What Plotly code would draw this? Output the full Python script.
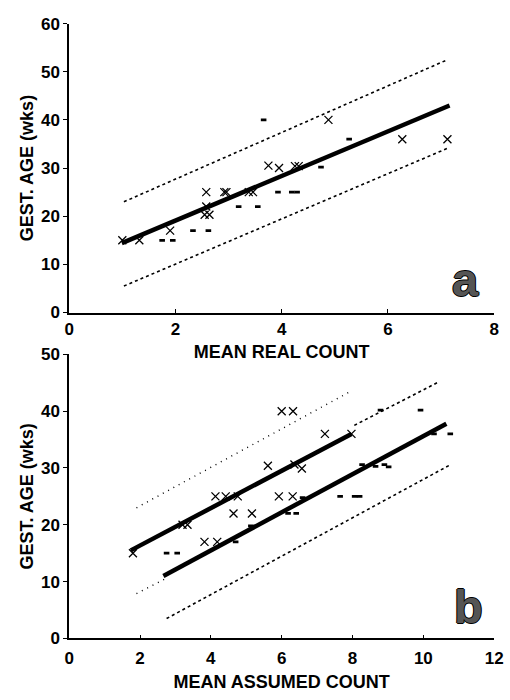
import plotly.graph_objects as go

# ---------- panel a: gestational age vs mean real count ----------
a_cross_x = [1.0, 1.32, 1.9, 2.58, 2.58, 2.55, 2.64, 2.92, 2.96, 3.38, 3.46,
             3.75, 3.95, 4.25, 4.32, 4.88, 6.27, 7.12]
a_cross_y = [15, 15, 17, 25, 22, 20.3, 20.3, 25, 25, 25, 25,
             30.5, 30, 30.4, 30.4, 40, 36, 36]
a_dash_x = [1.75, 1.95, 2.33, 2.62, 3.19, 3.55, 3.66, 3.93, 4.19, 4.29, 4.74, 5.27]
a_dash_y = [15, 15, 17, 17, 22, 22, 40, 25, 25, 25, 30.2, 36]

a_fit_x, a_fit_y = [0.99, 7.16], [14.4, 43.0]
a_hi_x, a_hi_y = [1.03, 7.12], [23.0, 52.5]
a_lo_x, a_lo_y = [1.03, 7.12], [5.5, 34.1]

# ---------- panel b: gestational age vs mean assumed count ----------
b_cross_x = [1.8, 3.2, 3.34, 3.82, 4.18, 4.13, 4.42, 4.76, 4.64, 5.16,
             5.61, 5.92, 6.31, 6.0, 6.32, 6.36, 6.57, 7.22, 7.97]
b_cross_y = [15, 20, 20, 17, 17, 25, 25, 25, 22, 22,
             30.4, 25, 25, 40, 40, 30.6, 29.9, 36, 36]
b_dash_x = [2.75, 3.05, 4.7, 5.13, 6.18, 6.41, 6.59, 7.65, 8.06, 8.2,
            8.27, 8.65, 8.9, 9.02, 8.79, 9.92, 10.3, 10.76]
b_dash_y = [15, 15, 17, 19.8, 22, 22, 24.8, 25, 25, 25,
            30.6, 30.3, 30.6, 30.2, 40.2, 40.2, 36, 36]

b_fit1_x, b_fit1_y = [1.74, 7.97], [15.5, 36.0]
b_hi1_x, b_hi1_y = [1.9, 7.92], [23.0, 43.4]
b_lo1_x, b_lo1_y = [1.9, 2.75], [7.9, 10.6]
b_fit2_x, b_fit2_y = [2.66, 10.65], [11.0, 37.8]
b_hi2_x, b_hi2_y = [8.05, 10.45], [37.5, 45.2]
b_lo2_x, b_lo2_y = [2.75, 10.77], [3.5, 30.6]

FONT = "Liberation Sans, Arial, sans-serif"

fig = go.Figure()


def add_line(x, y, xa, ya, width, dash="solid"):
    fig.add_trace(go.Scatter(x=x, y=y, xaxis=xa, yaxis=ya, mode="lines",
                             line=dict(color="black", width=width, dash=dash),
                             hoverinfo="skip"))


def add_marks(x, y, xa, ya, symbol, size, lw):
    fig.add_trace(go.Scatter(x=x, y=y, xaxis=xa, yaxis=ya, mode="markers",
                             marker=dict(symbol=symbol, size=size, color="black",
                                         line=dict(color="black", width=lw))))


# panel a
add_line(a_hi_x, a_hi_y, "x", "y", 1.6, "dot")
add_line(a_lo_x, a_lo_y, "x", "y", 1.6, "dot")
add_line(a_fit_x, a_fit_y, "x", "y", 4.5)
add_marks(a_cross_x, a_cross_y, "x", "y", "x-thin", 8, 1.3)
add_marks(a_dash_x, a_dash_y, "x", "y", "line-ew", 4, 2.8)

# panel b
add_line(b_hi1_x, b_hi1_y, "x2", "y2", 1.4, "1px,5px")
add_line(b_lo1_x, b_lo1_y, "x2", "y2", 1.4, "1px,5px")
add_line(b_hi2_x, b_hi2_y, "x2", "y2", 1.6, "dot")
add_line(b_lo2_x, b_lo2_y, "x2", "y2", 1.6, "dot")
add_line(b_fit1_x, b_fit1_y, "x2", "y2", 4.5)
add_line(b_fit2_x, b_fit2_y, "x2", "y2", 4.5)
add_marks(b_cross_x, b_cross_y, "x2", "y2", "x-thin", 8, 1.3)
add_marks(b_dash_x, b_dash_y, "x2", "y2", "line-ew", 4, 2.8)

tickfont = dict(family=FONT, size=17, color="black", weight="bold")
titlefont = dict(family=FONT, size=18, color="black", weight="bold")

axis_common = dict(showline=True, linecolor="black", linewidth=1.5,
                   showgrid=False, zeroline=False, tickfont=tickfont,
                   ticklen=4, tickwidth=1, tickcolor="black")

x_dom = [66 / 510, 503 / 510]
fig.update_layout(
    width=510, height=700,
    margin=dict(l=0, r=0, t=0, b=0),
    paper_bgcolor="white", plot_bgcolor="white",
    showlegend=False,
    xaxis=dict(domain=x_dom, range=[0, 8], dtick=2, anchor="y", ticks="inside",
               title=dict(text="MEAN REAL COUNT", font=titlefont, standoff=8),
               **axis_common),
    yaxis=dict(domain=[1 - 312 / 700, 1 - 15 / 700], range=[0, 60], dtick=10,
               anchor="x", ticks="outside",
               title=dict(text="GEST. AGE (wks)", font=titlefont, standoff=3),
               **axis_common),
    xaxis2=dict(domain=x_dom, range=[0, 12], dtick=2, anchor="y2", ticks="inside",
                ticklabelstandoff=3,
                title=dict(text="MEAN ASSUMED COUNT", font=titlefont, standoff=9),
                **axis_common),
    yaxis2=dict(domain=[1 - 647 / 700, 1 - 355 / 700], range=[0, 50], dtick=10,
                anchor="x2", ticks="outside",
                title=dict(text="GEST. AGE (wks)", font=titlefont, standoff=3),
                **axis_common),
)

# panel letters
letter_font = dict(family=FONT, size=47, color="#555555", weight="bold",
                   shadow="1px 0 0 #000, -1px 0 0 #000, 0 1px 0 #000, 0 -1px 0 #000")
fig.add_annotation(text="a", xref="paper", yref="paper", x=474 / 510, y=1 - 278 / 700,
                   showarrow=False, font=letter_font, xanchor="center", yanchor="middle")
fig.add_annotation(text="b", xref="paper", yref="paper", x=477 / 510, y=1 - 614 / 700,
                   showarrow=False, font=letter_font, xanchor="center", yanchor="middle")

fig.write_html("out.html")
